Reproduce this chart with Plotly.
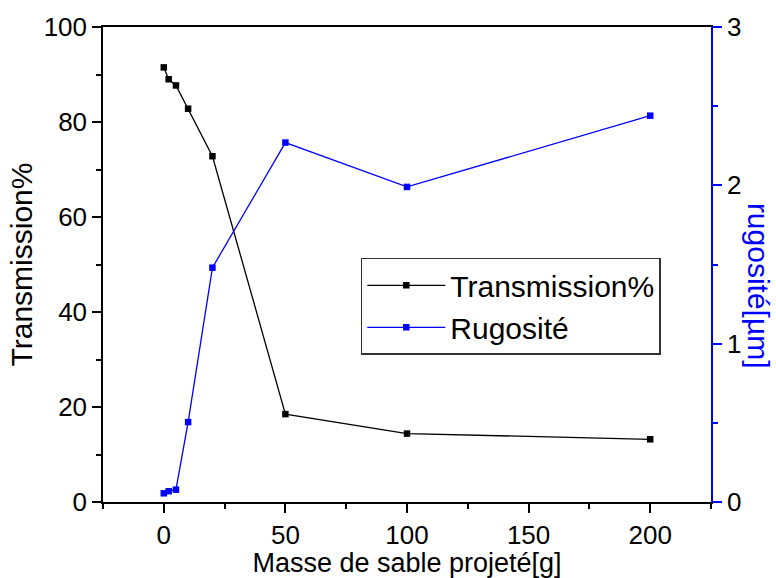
import plotly.graph_objects as go

# Sand-blasting mass (g) and the measured responses
masse = [0, 2, 5, 10, 20, 50, 100, 200]
transmission = [91.5, 89.0, 87.7, 82.8, 72.8, 18.5, 14.4, 13.2]
rugosite = [0.055, 0.068, 0.078, 0.505, 1.48, 2.27, 1.99, 2.44]

FONT = "Liberation Sans, Arial, sans-serif"
BLUE = "#0000ff"

fig = go.Figure()
fig.add_trace(go.Scatter(
    x=masse, y=transmission, name="Transmission%",
    mode="lines+markers",
    line=dict(color="black", width=1.3),
    marker=dict(symbol="square", size=6.5, color="black"),
))
fig.add_trace(go.Scatter(
    x=masse, y=rugosite, name="Rugosité", yaxis="y2",
    mode="lines+markers",
    line=dict(color=BLUE, width=1.3),
    marker=dict(symbol="square", size=6.5, color=BLUE),
))

fig.update_layout(
    width=776, height=578,
    margin=dict(l=103, r=65, t=27, b=76),
    paper_bgcolor="white", plot_bgcolor="white",
    font=dict(family=FONT, size=26, color="black"),
    showlegend=True,
    legend=dict(
        x=0.424, y=0.514, xanchor="left", yanchor="top",
        bgcolor="white", bordercolor="#333333", borderwidth=1.5,
        font=dict(family=FONT, size=30, color="black"),
        itemwidth=78, tracegroupgap=0,
    ),
    xaxis=dict(
        range=[-25, 225], tickvals=[0, 50, 100, 150, 200],
        showgrid=False, zeroline=False, automargin=False,
        showline=True, linecolor="black", linewidth=1.5, mirror=True,
        ticks="outside", ticklen=9, tickwidth=1.5, tickcolor="black",
        minor=dict(ticks="outside", ticklen=5, tickwidth=1.5, tickcolor="black",
                   tick0=-25, dtick=50),
        tickfont=dict(size=26),
        title=dict(text="Masse de sable projeté[g]", font=dict(size=27), standoff=4),
    ),
    yaxis=dict(
        range=[0, 100], tickvals=[0, 20, 40, 60, 80, 100],
        showgrid=False, zeroline=False, automargin=False,
        showline=True, linecolor="black", linewidth=1.5, mirror=False,
        ticks="outside", ticklen=9, tickwidth=1.5, tickcolor="black",
        minor=dict(ticks="outside", ticklen=5, tickwidth=1.5, tickcolor="black",
                   tick0=10, dtick=20),
        tickfont=dict(size=26),
        title=dict(text="Transmission%", font=dict(size=30), standoff=2),
    ),
    yaxis2=dict(
        range=[0, 3], tickvals=[0, 1, 2, 3],
        overlaying="y", side="right",
        showgrid=False, zeroline=False, automargin=False,
        showline=True, linecolor=BLUE, linewidth=1.5,
        ticks="outside", ticklen=9, tickwidth=1.5, tickcolor=BLUE,
        minor=dict(ticks="outside", ticklen=5, tickwidth=1.5, tickcolor=BLUE,
                   tick0=0.5, dtick=1),
        tickfont=dict(size=26, color="black"),
    ),
)

# Right-hand axis title, reading downward
fig.add_annotation(
    text="rugosité[µm]", textangle=90,
    xref="paper", yref="paper", x=1.0, y=0.455,
    xanchor="center", yanchor="middle", xshift=47, showarrow=False,
    font=dict(family=FONT, size=30, color=BLUE),
)

fig.write_html("out.html")
